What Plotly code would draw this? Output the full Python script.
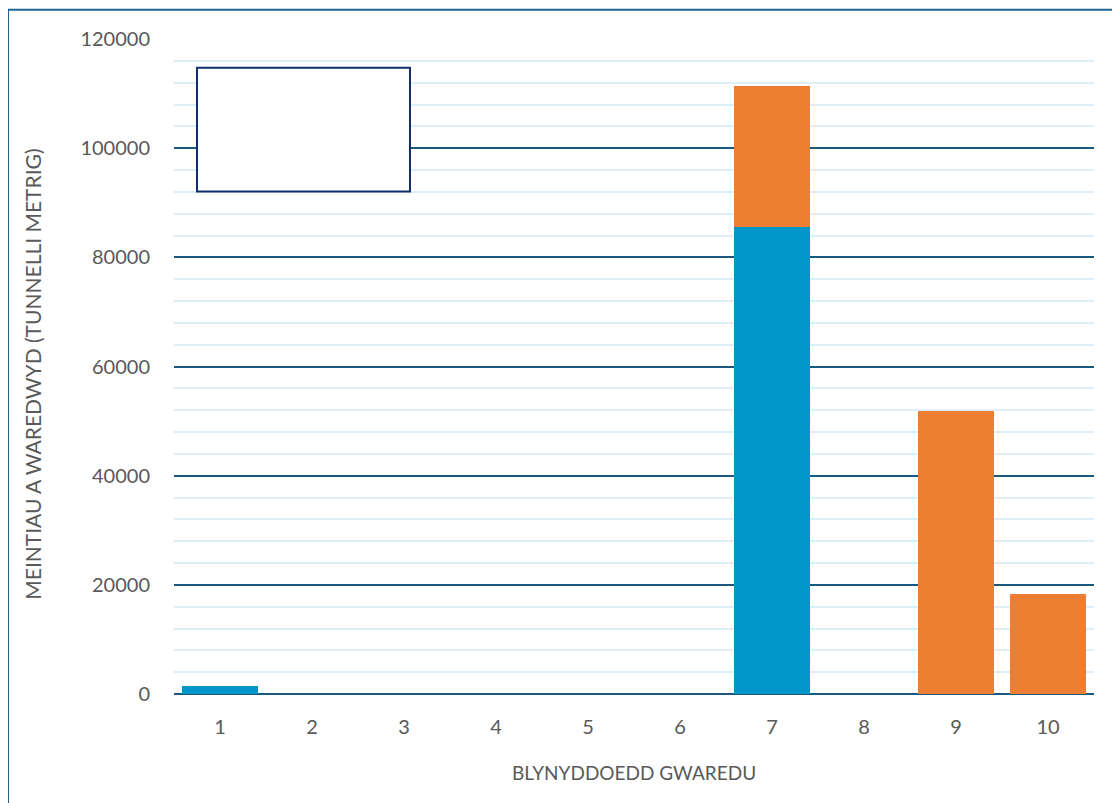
import plotly.graph_objects as go

categories = ["1", "2", "3", "4", "5", "6", "7", "8", "9", "10"]
series_blue = [1500, 0, 0, 0, 0, 0, 85500, 0, 0, 0]
series_orange = [0, 0, 0, 0, 0, 0, 25800, 0, 51800, 18400]
y_ticks = [0, 20000, 40000, 60000, 80000, 100000, 120000]
y_tick_labels = ["0", "20000", "40000", "60000", "80000", "100000", "120000"]

FONT = "Lato"
TXT = "#595959"

fig = go.Figure()
fig.add_trace(go.Bar(x=categories, y=series_blue, name="Cyfres 1",
                     marker=dict(color="#0096C9", line=dict(width=0))))
fig.add_trace(go.Bar(x=categories, y=series_orange, name="Cyfres 2",
                     marker=dict(color="#ED7D31", line=dict(width=0))))

# the page body adds an 8px offset; margins compensate
fig.update_layout(
    width=1120, height=803,
    barmode="stack", bargap=0.174,
    showlegend=False,
    plot_bgcolor="white", paper_bgcolor="white",
    margin=dict(l=166, r=34, t=31, b=117),
    font=dict(family=FONT, size=20, color=TXT),
    xaxis=dict(type="category", showgrid=False, showline=False, zeroline=False,
               ticks="outside", ticklen=15, tickcolor="rgba(0,0,0,0)",
               tickfont=dict(family=FONT, size=20, color=TXT)),
    yaxis=dict(range=[0, 120000], tickvals=y_ticks, ticktext=y_tick_labels, showgrid=True,
               gridcolor="#1B5A7E", gridwidth=2,
               zeroline=True, zerolinecolor="#1B5A7E", zerolinewidth=2,
               showline=False, ticks="outside", ticklen=19, tickcolor="rgba(0,0,0,0)",
               tickfont=dict(family=FONT, size=20, color=TXT),
               minor=dict(dtick=4000, showgrid=True, gridcolor="#DDEEF8", gridwidth=2)),
    shapes=[
        dict(type="rect", xref="paper", yref="paper",
             x0=-0.1804, x1=1.2, y0=-0.4, y1=1.0447,
             line=dict(color="#1F6391", width=2), fillcolor="rgba(0,0,0,0)", layer="above"),
        dict(type="rect", xref="paper", yref="paper",
             x0=0.025, x1=0.2565, y0=0.767, y1=0.956,
             line=dict(color="#102E6A", width=2), fillcolor="white", layer="above"),
    ],
    annotations=[
        dict(text="BLYNYDDOEDD GWAREDU", xref="paper", yref="paper",
             x=0.5, y=(694.3 - 773) / 655, xanchor="center", yanchor="middle",
             showarrow=False, font=dict(family=FONT, size=19, color=TXT)),
        dict(text="MEINTIAU A WAREDWYD (TUNNELLI METRIG)", xref="paper", yref="paper",
             x=(33 - 174) / 920, y=(694.3 - 375) / 655, xanchor="center", yanchor="middle",
             textangle=-90, showarrow=False, font=dict(family=FONT, size=21, color=TXT)),
    ],
)

fig.write_html("out.html")
